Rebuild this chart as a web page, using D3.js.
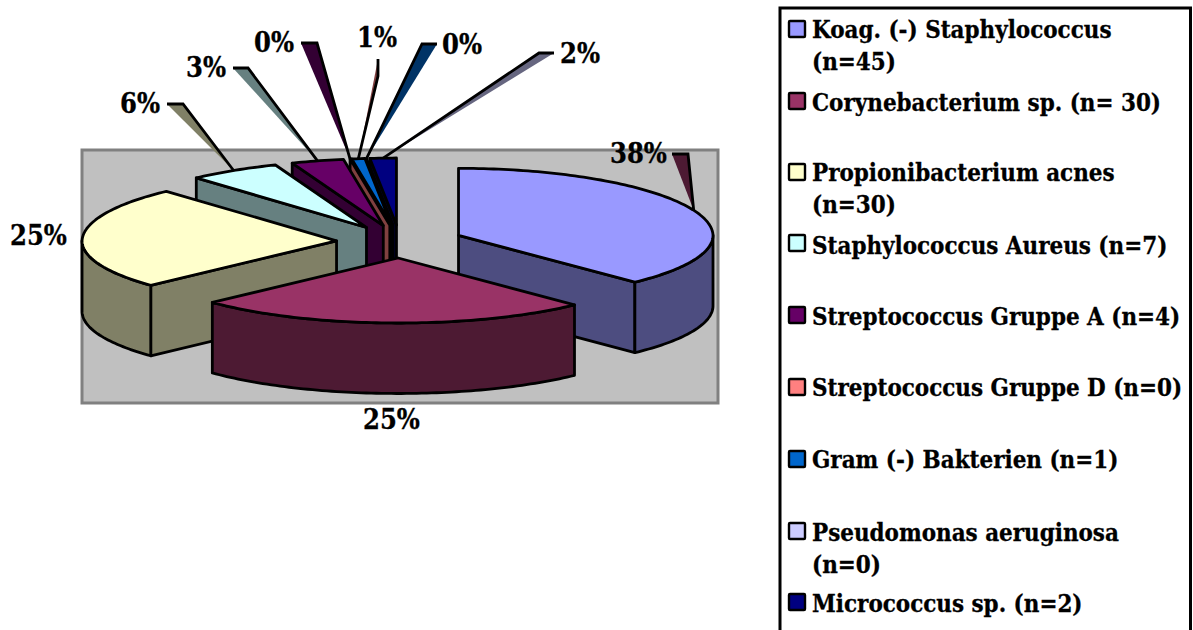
<!DOCTYPE html>
<html>
<head>
<meta charset="utf-8">
<script src="https://cdnjs.cloudflare.com/ajax/libs/d3/7.8.5/d3.min.js"></script>
<style>
  html, body { margin: 0; padding: 0; background: #fff; overflow: hidden; }
  svg { display: block; }
  text { font-family: "DejaVu Serif Condensed", "DejaVu Serif", serif; font-weight: 700; fill: #000; stroke: #000; stroke-width: 0.3px; }
  .legend-text { font-size: 23.9px; }
  .pct-text { font-size: 27px; }
</style>
</head>
<body>
<svg id="chart" width="1193" height="630"></svg>
<script>
// Isolate counts per organism, in pie order (clockwise from 12 o'clock)
const organisms = [
  ["Koag. (-) Staphylococcus", "(n=45)"],
  ["Corynebacterium sp. (n= 30)"],
  ["Propionibacterium acnes", "(n=30)"],
  ["Staphylococcus Aureus (n=7)"],
  ["Streptococcus Gruppe A (n=4)"],
  ["Streptococcus Gruppe D (n=0)"],
  ["Gram (-) Bakterien (n=1)"],
  ["Pseudomonas aeruginosa", "(n=0)"],
  ["Micrococcus sp. (n=2)"]
];
const counts = [45, 30, 30, 7, 4, 0, 1, 0, 2];
const topColors = ["#9999FF", "#993366", "#FFFFCC", "#CCFFFF", "#660066", "#FF8080", "#0066CC", "#CCCCFF", "#000080"];
const sideColors = ["#4D4D80", "#4D1A33", "#808066", "#668080", "#330033", "#804040", "#003366", "#666680", "#000040"];
const leaderColors = ["#4D1A33", null, null, "#808066", "#668080", "#330033", "#804040", "#003366", "#666680"];

// Pie projection: the far half of the ellipse is a little taller and narrower than the near half
const CX = 399.8, CY = 241.5, RX = 254.5, RY_BACK = 67, RY_FRONT = 65, DEPTH = 70.5;
const EXPLODE_X = 63.3, EXPLODE_Y = 16.5, PERSPECTIVE = 0.01;

// Percent label baseline-left corners and leader elbows [x1, y1, x2, y2] where the leader starts
const labelSpots = [[610, 163], [363, 429], [10, 245], [120, 113], [186, 77], [254, 52], [357, 47], [442, 54], [560, 63]];
const leaderElbows = [[672, 154, 688, 154], null, null, [167, 104, 183, 104], [233, 68, 248, 68], [301, 43, 317, 43], [378, 59, 378, 76], [437, 44, 422, 44], [554, 53, 539, 53]];

// Legend rows: swatch top, then a baseline for each text line
const legendRows = [
  [21, [38, 70]], [93, [111]], [164, [181, 213]], [235, [254]], [307, [325]],
  [379, [396]], [451, [468]], [523, [541, 573]], [594, [612]]
];

const svg = d3.select("#chart");

// Plot area
svg.append("rect")
  .attr("x", 82).attr("y", 150).attr("width", 636).attr("height", 253)
  .attr("fill", "#C0C0C0").attr("stroke", "#808080").attr("stroke-width", 3);

// Angles from the layout generator, 0 at 12 o'clock and growing clockwise
const arcs = d3.pie().sort(null).value(d => d)(counts);
const total = d3.sum(counts);
const pct = d3.format(".0%");

const toX = d3.scaleLinear().domain([-1, 1]).range([-RX, RX]);
const toY = d3.scaleLinear().domain([-1, 0, 1]).range([-RY_BACK, 0, RY_FRONT]);

function apex(a) {
  const mid = (a.startAngle + a.endAngle) / 2;
  return [CX + EXPLODE_X * Math.sin(mid), CY - EXPLODE_Y * Math.cos(mid)];
}
function rim(a, t) {
  const o = apex(a);
  const narrowing = 1 - PERSPECTIVE * Math.max(0, Math.cos(t));
  return [o[0] + toX(Math.sin(t)) * narrowing, o[1] + toY(-Math.cos(t))];
}
function rimPoints(a, t0, t1) {
  const n = Math.max(2, Math.ceil((t1 - t0) / 0.02));
  return d3.range(n + 1).map(i => rim(a, t0 + (t1 - t0) * i / n));
}
const lineGen = d3.line();
const closed = pts => lineGen(pts) + "Z";
const drop = p => [p[0], p[1] + DEPTH];

const STROKE = 2.8;
const gLeaders = svg.append("g");
const gPie = svg.append("g");

function face(d, fill) {
  gPie.append("path").attr("d", d).attr("fill", fill)
    .attr("stroke", "#000").attr("stroke-width", STROKE).attr("stroke-linejoin", "round");
}

// Painted back to front: the far slices first, the front slice last
const paintOrder = [8, 7, 6, 5, 4, 3, 2, 0, 1];
paintOrder.forEach(i => {
  const a = arcs[i], o = apex(a), s = a.startAngle, e = a.endAngle;
  // Cut faces that turn towards the viewer
  if (Math.sin(s) < -1e-6) {
    const p = rim(a, s);
    face(closed([p, o, drop(o), drop(p)]), sideColors[i]);
  }
  if (Math.sin(e) > 1e-6) {
    const p = rim(a, e);
    face(closed([o, p, drop(p), drop(o)]), sideColors[i]);
  }
  // Curved outer wall on the near half
  const w0 = Math.max(s, Math.PI / 2), w1 = Math.min(e, 3 * Math.PI / 2);
  if (w1 > w0) {
    const pts = rimPoints(a, w0, w1);
    face(closed(pts.concat(pts.map(drop).reverse())), sideColors[i]);
  }
  // Top face
  if (e > s) {
    face(closed([o].concat(rimPoints(a, s, e))), topColors[i]);
  }
});

// Leader wedges from each outer label to the middle of its slice rim
arcs.forEach((a, i) => {
  const el = leaderElbows[i];
  if (!el) return;
  const tip = rim(a, (a.startAngle + a.endAngle) / 2);
  gLeaders.append("path")
    .attr("d", closed([[el[0], el[1]], [el[2], el[3]], tip]))
    .attr("fill", leaderColors[i]);
  gLeaders.append("path")
    .attr("d", lineGen([[el[0], el[1]], [el[2], el[3]], tip]))
    .attr("fill", "none").attr("stroke", "#000").attr("stroke-width", STROKE);
});

// Percent labels
svg.append("g").selectAll("text").data(arcs).join("text")
  .attr("class", "pct-text")
  .attr("x", (d, i) => labelSpots[i][0])
  .attr("y", (d, i) => labelSpots[i][1])
  .text(d => pct(d.value / total));

// Legend
svg.append("rect")
  .attr("x", 780).attr("y", 8).attr("width", 410.5).attr("height", 640)
  .attr("fill", "#fff").attr("stroke", "#000").attr("stroke-width", 3);

organisms.forEach((lines, i) => {
  const [swatchTop, baselines] = legendRows[i];
  svg.append("rect")
    .attr("x", 789).attr("y", swatchTop).attr("width", 16).attr("height", 16)
    .attr("fill", topColors[i]).attr("stroke", "#000").attr("stroke-width", 2.4).attr("rx", 1);
  lines.forEach((t, j) => {
    svg.append("text").attr("class", "legend-text").attr("x", 812).attr("y", baselines[j]).text(t);
  });
});
</script>
</body>
</html>
